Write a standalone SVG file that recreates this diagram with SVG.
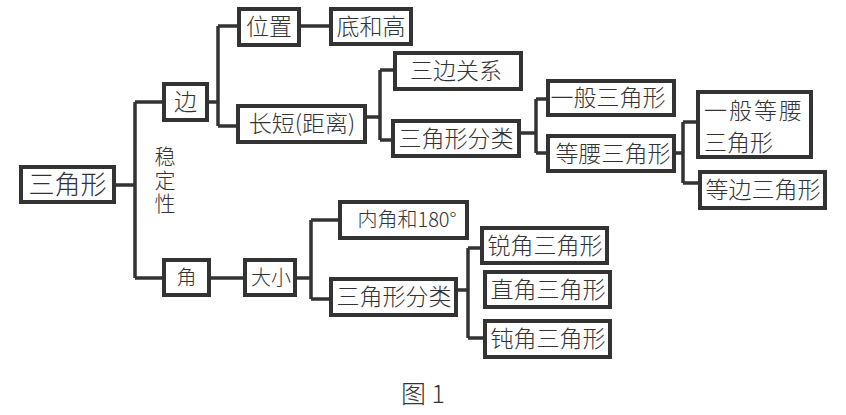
<svg xmlns="http://www.w3.org/2000/svg" width="846" height="415" viewBox="0 0 846 415">
<style>
.box{fill:#fff;stroke:#333;stroke-width:4}
.ln{fill:none;stroke:#333;stroke-width:3.5}
text{font-family:"Noto Sans CJK SC","Noto Sans",sans-serif;font-weight:300;fill:#333;text-anchor:middle}
.t23{font-size:23px}
.t20{font-size:20px}
</style>
<rect width="846" height="415" fill="#fff"/>
<g id="connectors">
<path class="ln" d="M114,185H135M135,102V278M135,102H164M135,278H164"/>
<path class="ln" d="M207,102H218M218,26V126M218,26H239M218,126H238"/>
<path class="ln" d="M299,26H331"/>
<path class="ln" d="M365,117H380M380,70V140M380,70H395M380,140H393"/>
<path class="ln" d="M519,133H536M536,99V153M536,99H548M536,153H548"/>
<path class="ln" d="M674,153H683M683,122V183M683,122H698M683,183H700"/>
<path class="ln" d="M209,278H245"/>
<path class="ln" d="M295,278H311M311,220V299M311,220H340M311,299H331"/>
<path class="ln" d="M456,290H468M468,248V338M468,248H482M468,338H485"/>
</g>
<g id="n-sanjiaoxing"><rect class="box" x="21" y="167" width="93" height="35"/><text x="67.5" y="194" style="font-size:26px">三角形</text></g>
<g id="n-bian"><rect class="box" x="164" y="84" width="43" height="36"/><text class="t23" x="185.5" y="110">边</text></g>
<g id="n-weizhi"><rect class="box" x="239" y="9" width="60" height="36"/><text class="t23" x="269" y="35">位置</text></g>
<g id="n-dihegao"><rect class="box" x="331" y="9" width="80" height="35"/><text class="t23" x="371" y="35">底和高</text></g>
<g id="n-changduan"><rect class="box" x="238" y="106" width="127" height="36"/><text class="t23" x="302" y="132">长短(距离)</text></g>
<g id="n-sanbian"><rect class="box" x="395" y="53" width="126" height="36"/><text class="t23" x="456" y="79">三边关系</text></g>
<g id="n-fenlei1"><rect class="box" x="393" y="121" width="126" height="35"/><text class="t23" x="456" y="147">三角形分类</text></g>
<g id="n-yiban"><rect class="box" x="548" y="81" width="126" height="34"/><text class="t23" x="608" y="106">一般三角形</text></g>
<g id="n-dengyao"><rect class="box" x="548" y="136" width="126" height="35"/><text class="t23" x="613" y="162">等腰三角形</text></g>
<g id="n-yibandengyao"><rect class="box" x="698" y="92" width="113" height="65"/><text class="t23" style="text-anchor:start"><tspan x="704" y="119" letter-spacing="2">一般等腰</tspan><tspan x="704" y="151">三角形</tspan></text></g>
<g id="n-dengbian"><rect class="box" x="700" y="172" width="125" height="36"/><text class="t23" x="763" y="198">等边三角形</text></g>
<g id="n-wendingxing"><text x="165" y="181" style="font-size:21px;writing-mode:tb;letter-spacing:2.5px">稳定性</text></g>
<g id="n-jiao"><rect class="box" x="164" y="260" width="45" height="35"/><text class="t20" x="186.5" y="285">角</text></g>
<g id="n-daxiao"><rect class="box" x="245" y="260" width="50" height="35"/><text class="t20" x="271" y="285">大小</text></g>
<g id="n-neijiao"><rect class="box" x="340" y="202" width="127" height="36"/><text class="t20" x="407" y="227">内角和180°</text></g>
<g id="n-fenlei2"><rect class="box" x="331" y="279" width="125" height="36"/><text class="t23" x="394" y="305">三角形分类</text></g>
<g id="n-ruijiao"><rect class="box" x="482" y="228" width="125" height="35"/><text class="t23" x="545" y="254">锐角三角形</text></g>
<g id="n-zhijiao"><rect class="box" x="485" y="272" width="125" height="35"/><text class="t23" x="548" y="298">直角三角形</text></g>
<g id="n-dunjiao"><rect class="box" x="485" y="321" width="125" height="36"/><text class="t23" x="548" y="347">钝角三角形</text></g>
<text x="423" y="403" style="font-size:25px">图 1</text>
</svg>
